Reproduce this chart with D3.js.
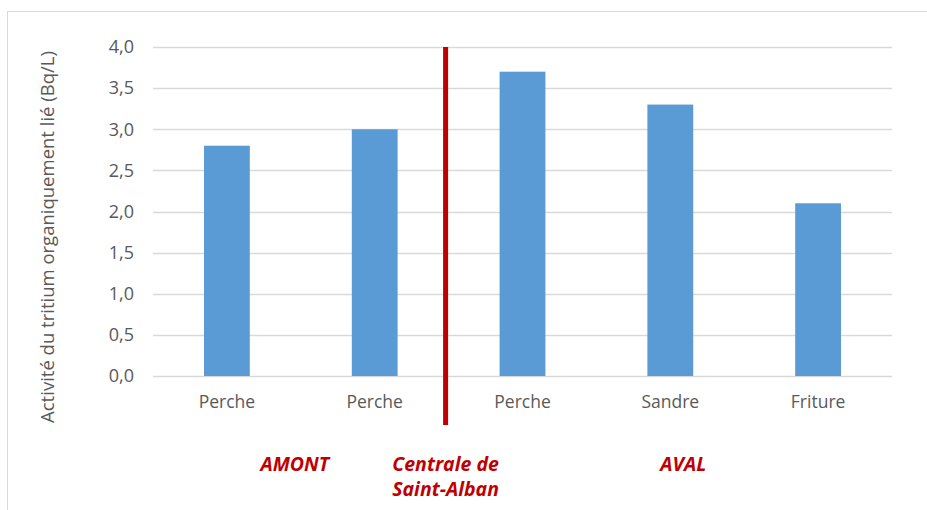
<!DOCTYPE html>
<html>
<head>
<meta charset="utf-8">
<script src="https://cdn.jsdelivr.net/npm/d3@7"></script>
<style>
  body { margin: 0; background: #fff; }
  text { font-family: "Open Sans", "Liberation Sans", sans-serif; }
</style>
</head>
<body>
<div id="chart"></div>
<script>
// Data
var categories = ["Perche", "Perche", "Perche", "Sandre", "Friture"];
var values = [2.8, 3.0, 3.7, 3.3, 2.1];
var yTicks = [0, 0.5, 1, 1.5, 2, 2.5, 3, 3.5, 4];
var zoneLabels = [
  { lines: ["AMONT"], from: 0, to: 2, shift: -6 },
  { lines: ["Centrale de", "Saint-Alban"], from: 2, to: 2, shift: 0 },
  { lines: ["AVAL"], from: 2, to: 5, shift: 13 }
];

var svgWidth = 927;
var svgHeight = 510;

var margin = { top: 47, right: 35, bottom: 134, left: 153 };
var width = svgWidth - margin.left - margin.right;
var height = svgHeight - margin.top - margin.bottom;

var svg = d3.select("#chart")
  .append("svg")
  .attr("width", svgWidth)
  .attr("height", svgHeight);

// outer frame of the picture
svg.append("rect")
  .attr("x", 7.5)
  .attr("y", 11.5)
  .attr("width", svgWidth)
  .attr("height", svgHeight)
  .attr("fill", "none")
  .attr("stroke", "#d9d9d9");

var chartGroup = svg.append("g")
  .attr("transform", `translate(${margin.left}, ${margin.top})`);

// scales
var xScale = d3.scaleBand()
  .domain(d3.range(categories.length))
  .range([0, width])
  .paddingInner(0.69)
  .paddingOuter(0.345);

var yScale = d3.scaleLinear()
  .domain([0, 4])
  .range([height, 0]);

// gridlines
chartGroup.append("g")
  .selectAll("line")
  .data(yTicks)
  .enter()
  .append("line")
  .attr("x1", 0)
  .attr("x2", width)
  .attr("y1", d => Math.round(yScale(d)) + 0.5)
  .attr("y2", d => Math.round(yScale(d)) + 0.5)
  .attr("stroke", "#d9d9d9")
  .attr("stroke-width", 1.3);

// y axis labels
var leftAxis = d3.axisLeft(yScale)
  .tickValues(yTicks)
  .tickSize(0)
  .tickPadding(19)
  .tickFormat(d => d3.format(".1f")(d).replace(".", ","));

var yAxis = chartGroup.append("g").call(leftAxis);
yAxis.select(".domain").remove();
yAxis.selectAll("text")
  .attr("fill", "#595959")
  .style("font-size", "18px");

// x axis labels
var bottomAxis = d3.axisBottom(xScale)
  .tickSize(0)
  .tickPadding(20)
  .tickFormat(i => categories[i]);

var xAxis = chartGroup.append("g")
  .attr("transform", `translate(0, ${height})`)
  .call(bottomAxis);
xAxis.select(".domain").remove();
xAxis.selectAll("text")
  .attr("fill", "#595959")
  .style("font-size", "17.5px");

// bars
chartGroup.selectAll(".bar")
  .data(values)
  .enter()
  .append("rect")
  .attr("class", "bar")
  .attr("x", (d, i) => xScale(i))
  .attr("y", d => yScale(d))
  .attr("width", xScale.bandwidth())
  .attr("height", d => height - yScale(d))
  .attr("fill", "#5b9bd5");

// red separator line between upstream and downstream
var sepX = (xScale(1) + xScale(2) + xScale.bandwidth()) / 2 - 3;
chartGroup.append("line")
  .attr("x1", sepX)
  .attr("x2", sepX)
  .attr("y1", 0)
  .attr("y2", height + 49)
  .attr("stroke", "#c00000")
  .attr("stroke-width", 5);

// zone labels
function zoneCenter(z) {
  if (z.from === z.to) return sepX;
  return (xScale(z.from) + xScale(z.to - 1) + xScale.bandwidth()) / 2 + z.shift;
}

zoneLabels.forEach(function(z) {
  var cx = zoneCenter(z);
  var t = chartGroup.append("text")
    .attr("x", cx)
    .attr("y", height + 95)
    .attr("text-anchor", "middle")
    .attr("fill", "#c00000")
    .style("font-size", "19.5px")
    .style("font-weight", "bold")
    .style("font-style", "italic");
  z.lines.forEach(function(l, k) {
    t.append("tspan")
      .attr("x", cx)
      .attr("dy", k === 0 ? 0 : 25)
      .text(l);
  });
});

// y axis title
chartGroup.append("text")
  .attr("transform", "rotate(-90)")
  .attr("x", 0 - 190)
  .attr("y", 0 - margin.left + 54)
  .attr("text-anchor", "middle")
  .attr("fill", "#595959")
  .style("font-size", "18.5px")
  .text("Activité du tritium organiquement lié (Bq/L)");
</script>
</body>
</html>
